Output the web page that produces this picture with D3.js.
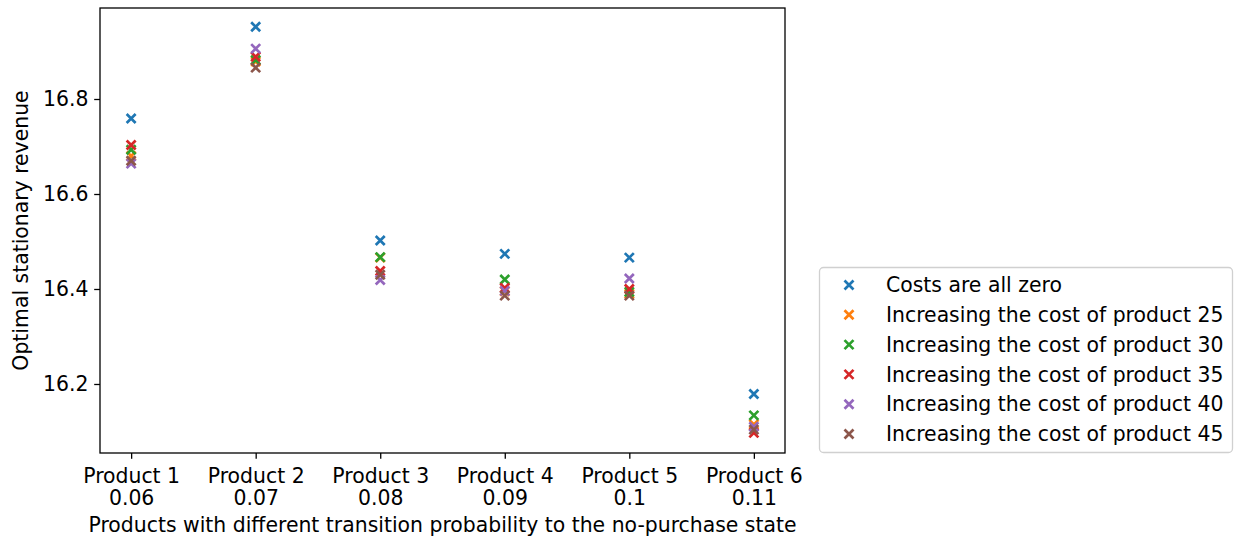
<!DOCTYPE html>
<html>
<head>
<meta charset="utf-8">
<script src="https://cdn.jsdelivr.net/npm/d3@7"></script>
<style>
  html, body { margin: 0; padding: 0; background: #fff; overflow: hidden; }
  svg { display: block; }
  text { font-family: "DejaVu Sans", sans-serif; fill: #000; }
</style>
</head>
<body>
<div id="chart"></div>
<script>
// Categories and values
const products = ["Product 1", "Product 2", "Product 3", "Product 4", "Product 5", "Product 6"];
const probabilities = ["0.06", "0.07", "0.08", "0.09", "0.1", "0.11"];
const seriesNames = [
    "Costs are all zero",
    "Increasing the cost of product 25",
    "Increasing the cost of product 30",
    "Increasing the cost of product 35",
    "Increasing the cost of product 40",
    "Increasing the cost of product 45"
];
const costZero = [16.759, 16.952, 16.502, 16.474, 16.466, 16.179];
const cost25 = [16.680, 16.879, 16.466, 16.395, 16.390, 16.115];
const cost30 = [16.693, 16.882, 16.467, 16.420, 16.394, 16.134];
const cost35 = [16.703, 16.889, 16.438, 16.402, 16.400, 16.097];
const cost40 = [16.664, 16.906, 16.419, 16.396, 16.422, 16.110];
const cost45 = [16.670, 16.866, 16.430, 16.386, 16.386, 16.104];
const yTicks = [16.2, 16.4, 16.6, 16.8];

const seriesValues = [costZero, cost25, cost30, cost35, cost40, cost45];
const colors = ["#1f77b4", "#ff7f0e", "#2ca02c", "#d62728", "#9467bd", "#8c564b"];

const width = 1235, height = 542;
const margin = { left: 100, top: 8, right: 450, bottom: 89 };
const innerWidth = width - margin.left - margin.right;   // 685
const innerHeight = height - margin.top - margin.bottom; // 445
const fontSize = 20.4;

const svg = d3.select("#chart")
    .append("svg")
    .attr("width", width)
    .attr("height", height)
    .attr("viewBox", `0 0 ${width} ${height}`);

const inner = svg.append("g")
    .attr("transform", `translate(${margin.left},${margin.top})`);

// Scales
const xScale = d3.scaleLinear()
    .domain([-0.25, products.length - 1 + 0.25])
    .range([0, innerWidth]);

const yScale = d3.scaleLinear()
    .domain([16.0547, 16.9916])
    .range([innerHeight, 0]);

// X axis (ticks only, two-line labels added below)
const xAxis = inner.append("g")
    .attr("transform", `translate(0,${innerHeight})`)
    .call(d3.axisBottom(xScale)
        .tickValues(d3.range(products.length))
        .tickSize(5.8)
        .tickFormat(""));
xAxis.select(".domain").remove();
xAxis.selectAll(".tick line").attr("stroke", "#000").attr("stroke-width", 1.3);
xAxis.selectAll(".tick text").remove();
xAxis.selectAll(".tick").each(function(d) {
    const tick = d3.select(this);
    tick.append("text")
        .attr("y", 30.3)
        .attr("text-anchor", "middle")
        .style("font-size", fontSize + "px")
        .text(products[d]);
    tick.append("text")
        .attr("y", 52.3)
        .attr("text-anchor", "middle")
        .style("font-size", fontSize + "px")
        .text(probabilities[d]);
});

// Y axis
const yAxis = inner.append("g")
    .call(d3.axisLeft(yScale)
        .tickValues(yTicks)
        .tickSize(5.8)
        .tickPadding(5.8)
        .tickFormat(d3.format(".1f")));
yAxis.select(".domain").remove();
yAxis.selectAll(".tick line").attr("stroke", "#000").attr("stroke-width", 1.3);
yAxis.selectAll(".tick text")
    .style("font-size", fontSize + "px");

// Frame
inner.append("rect")
    .attr("width", innerWidth)
    .attr("height", innerHeight)
    .attr("fill", "none")
    .attr("stroke", "#000")
    .attr("stroke-width", 1.3);

// Axis labels
svg.append("text")
    .attr("x", margin.left + innerWidth / 2)
    .attr("y", 532)
    .attr("text-anchor", "middle")
    .style("font-size", fontSize + "px")
    .text("Products with different transition probability to the no-purchase state");

svg.append("text")
    .attr("transform", `translate(27.5,${margin.top + innerHeight / 2}) rotate(-90)`)
    .attr("text-anchor", "middle")
    .style("font-size", fontSize + "px")
    .text("Optimal stationary revenue");

// x-shaped marker path
const xMarker = (s) => `M${-s},${-s}L${s},${s}M${-s},${s}L${s},${-s}`;

// Points
seriesValues.forEach((vals, si) => {
    inner.append("g")
        .selectAll("path")
        .data(vals)
        .join("path")
        .attr("transform", (d, i) => `translate(${xScale(i)},${yScale(d)})`)
        .attr("d", xMarker(4.5))
        .attr("stroke", colors[si])
        .attr("stroke-width", 2.7)
        .attr("fill", "none");
});

// Legend
const legend = svg.append("g")
    .attr("transform", "translate(819,267)");

legend.append("rect")
    .attr("x", 0.5)
    .attr("y", 0.5)
    .attr("width", 413)
    .attr("height", 185)
    .attr("rx", 4)
    .attr("fill", "#fff")
    .attr("fill-opacity", 0.8)
    .attr("stroke", "#d0d0d0")
    .attr("stroke-width", 1.3);

seriesNames.forEach((name, i) => {
    const row = legend.append("g")
        .attr("transform", `translate(0,${18 + i * 29.8})`);
    row.append("path")
        .attr("transform", "translate(30,0)")
        .attr("d", xMarker(4.5))
        .attr("stroke", colors[i])
        .attr("stroke-width", 2.7)
        .attr("fill", "none");
    row.append("text")
        .attr("x", 67)
        .attr("y", 0)
        .attr("dy", "0.35em")
        .style("font-size", fontSize + "px")
        .text(name);
});
</script>
</body>
</html>
